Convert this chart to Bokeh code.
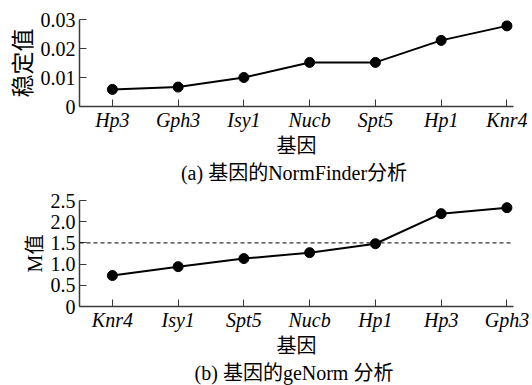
from bokeh.plotting import figure
from bokeh.models import FixedTicker, Range1d, Span, Title, NumeralTickFormatter
from bokeh.layouts import column
from bokeh.embed import file_html
from bokeh.resources import INLINE

# ---- data ----
genes_a = ["Hp3", "Gph3", "Isy1", "Nucb", "Spt5", "Hp1", "Knr4"]
stability_a = [0.0059, 0.0067, 0.0100, 0.0152, 0.0152, 0.0228, 0.0278]
yticks_a = [0, 0.01, 0.02, 0.03]

genes_b = ["Knr4", "Isy1", "Spt5", "Nucb", "Hp1", "Hp3", "Gph3"]
m_values_b = [0.73, 0.94, 1.13, 1.27, 1.48, 2.19, 2.33]
yticks_b = [0, 0.5, 1.0, 1.5, 2.0, 2.5]
threshold_b = 1.5

MIXED = "Liberation Serif, Noto Sans CJK SC"
AXIS_C = "#3a3a3a"


def make(genes, vals, yticks, ymax, ylabel, ylabel_size, caption, height, top, bottom, fmt):
    p = figure(width=532, height=height, output_backend="svg", toolbar_location=None,
               x_range=Range1d(-0.5, len(genes) - 0.9), y_range=Range1d(0, ymax),
               min_border_left=79, min_border_right=19, min_border_top=top,
               min_border_bottom=bottom)
    p.outline_line_color = None
    p.grid.visible = False
    xs = list(range(len(genes)))
    p.line(xs, vals, line_color="black", line_width=2)
    p.scatter(xs, vals, size=10, fill_color="black", line_color="black")

    xa = p.xaxis[0]
    xa.ticker = FixedTicker(ticks=xs)
    xa.major_label_overrides = {i: g for i, g in enumerate(genes)}
    xa.major_label_text_font = MIXED
    xa.major_label_text_font_style = "italic"
    xa.major_label_text_font_size = "20px"
    xa.major_label_text_color = "black"
    xa.major_label_standoff = 2
    xa.major_tick_in = 7
    xa.major_tick_out = 0
    xa.minor_tick_line_color = None
    xa.axis_line_color = AXIS_C
    xa.major_tick_line_color = AXIS_C
    xa.axis_line_width = 1.5
    xa.axis_label = "基因"
    xa.axis_label_text_font = MIXED
    xa.axis_label_text_font_style = "normal"
    xa.axis_label_text_font_size = "20px"
    xa.axis_label_standoff = 1
    xa.axis_label_text_color = "black"

    ya = p.yaxis[0]
    ya.ticker = FixedTicker(ticks=yticks)
    ya.formatter = NumeralTickFormatter(format=fmt)
    ya.major_label_overrides = {0: "0"}
    ya.major_label_text_font = MIXED
    ya.major_label_text_font_size = "20px"
    ya.major_label_text_color = "black"
    ya.major_label_standoff = 4
    ya.major_tick_in = 7
    ya.major_tick_out = 0
    ya.minor_tick_line_color = None
    ya.axis_line_color = AXIS_C
    ya.major_tick_line_color = AXIS_C
    ya.axis_line_width = 1.5
    ya.axis_label = ylabel
    ya.axis_label_text_font = MIXED
    ya.axis_label_text_font_style = "normal"
    ya.axis_label_text_font_size = ylabel_size
    ya.axis_label_standoff = 2
    ya.axis_label_text_color = "black"

    t = Title(text=caption, align="center", text_font=MIXED, text_font_size="20px",
              text_font_style="normal", text_color="black", standoff=0, offset=0)
    p.add_layout(t, "below")
    return p


pa = make(genes_a, stability_a, yticks_a, 0.03, "稳定值", "23px", "(a)  基因的NormFinder分析",
          187, 19, 81, "0.00")
pb = make(genes_b, m_values_b, yticks_b, 2.5, "M值", "20px", "(b)  基因的geNorm 分析",
          198, 13, 79, "0.0")
pb.add_layout(Span(location=threshold_b, dimension="width", line_color="black",
                   line_width=1, line_dash="4 3"))

layout = column(pa, pb, spacing=0)
open("out.html", "w").write(file_html(layout, INLINE))
